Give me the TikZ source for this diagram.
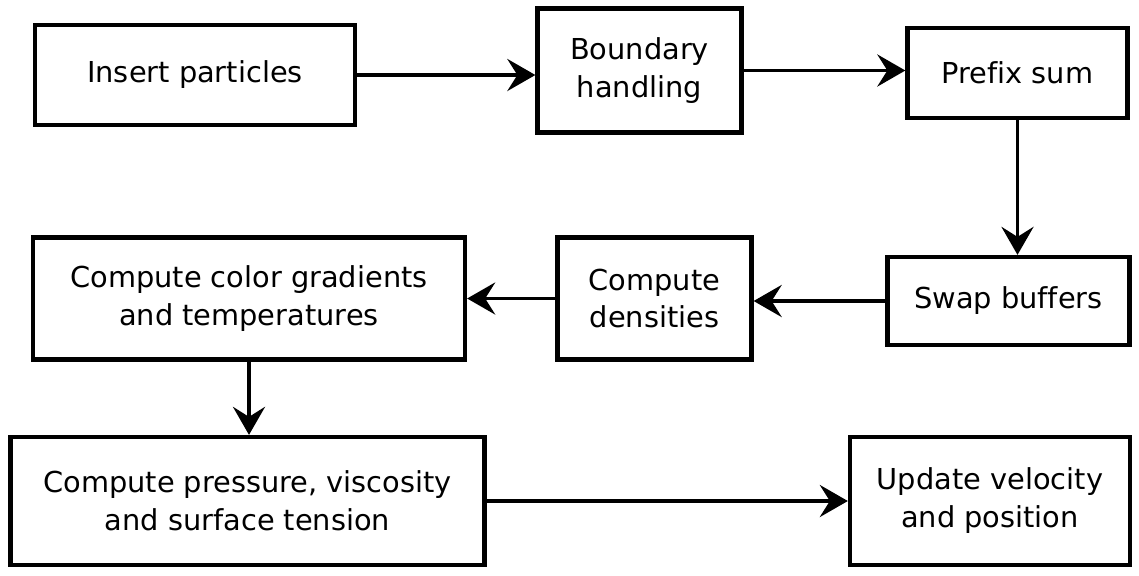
\documentclass[tikz,border=0pt]{standalone}
\usepackage{fontspec}
\setmainfont[Ligatures=NoCommon]{DejaVu Sans}
\usepackage{tikz}
\usetikzlibrary{arrows.meta}

\begin{document}
\begin{tikzpicture}[x=0.025cm,y=-0.025cm,
    stage/.style={draw=black,line width=3pt,fill=white,align=center,
      inner sep=0pt,font=\fontsize{20.5}{27}\selectfont},
    flow/.style={line width=2.8pt,-{Stealth[length=0.7cm,width=0.8cm,inset=0.25cm]}}]

  \useasboundingbox (0,0) rectangle (1139,575);

  \node[stage,minimum width=8cm,minimum height=2.5cm] (insert) at (195,75) {Insert particles};
  \node[stage,minimum width=5.1cm,minimum height=3.1cm] (boundary) at (639.5,70.5) {Boundary\\handling};
  \node[stage,minimum width=5.5cm,minimum height=2.25cm] (prefix) at (1017.5,73) {Prefix sum};

  \node[stage,minimum width=6.05cm,minimum height=2.2cm] (swap) at (1008.5,301) {Swap buffers};
  \node[stage,minimum width=4.85cm,minimum height=3.05cm] (dens) at (654.5,298.5) {Compute\\densities};
  \node[stage,minimum width=10.8cm,minimum height=3.05cm] (color) at (249,298.5) {Compute color gradients\\and temperatures};

  \node[stage,minimum width=11.85cm,minimum height=3.2cm] (press) at (247.5,501) {Compute pressure, viscosity\\and surface tension};
  \node[stage,minimum width=7cm,minimum height=3.2cm] (update) at (990,501) {Update velocity\\and position};

  \draw[flow] (insert.east) -- (insert.east -| boundary.west);
  \draw[flow] (boundary.east) -- (boundary.east -| prefix.west);
  \draw[flow] (prefix.south) -- (prefix.south |- swap.north);
  \draw[flow] (swap.west) -- (swap.west -| dens.east);
  \draw[flow] (dens.west) -- (dens.west -| color.east);
  \draw[flow] (color.south) -- (color.south |- press.north);
  \draw[flow] (press.east) -- (press.east -| update.west);
\end{tikzpicture}
\end{document}
